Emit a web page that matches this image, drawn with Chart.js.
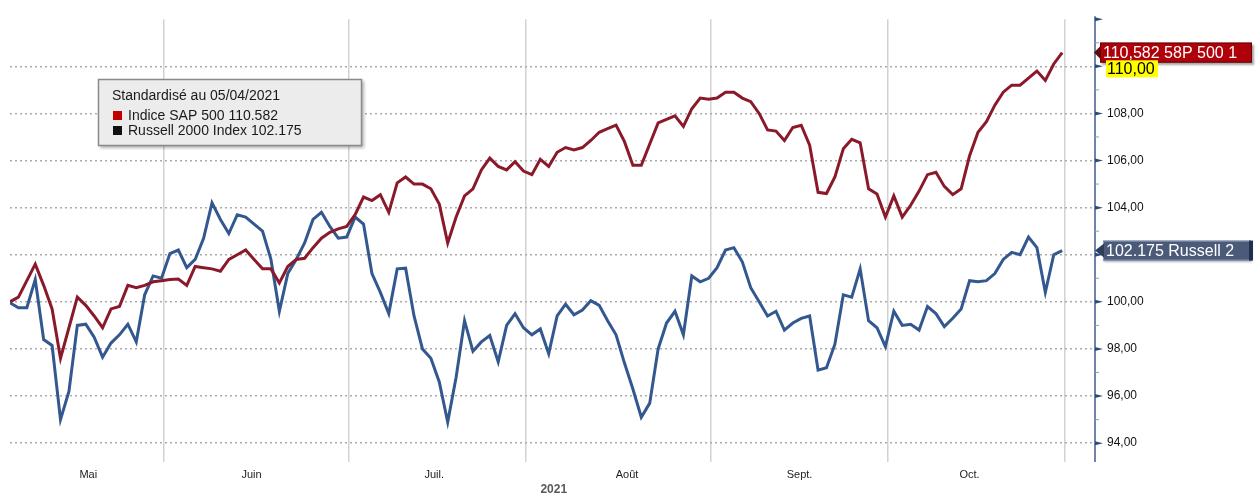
<!DOCTYPE html>
<html>
<head>
<meta charset="utf-8">
<script src="https://cdn.jsdelivr.net/npm/chart.js@4.4.1/dist/chart.umd.min.js"></script>
<style>
  html, body { margin: 0; padding: 0; background: #fff; }
  #wrap { width: 1256px; height: 497px; position: relative; }
</style>
</head>
<body>
<div id="wrap"><canvas id="chart" width="1256" height="497"></canvas></div>
<script>
// ==== DATA (standardisé au 05/04/2021, une valeur par séance) ====
const sp500 = [
  100.0, 100.2, 100.9, 101.6, 100.7, 99.7, 97.6, 98.9, 100.2, 99.85,
  99.4, 98.9, 99.7, 99.8, 100.7, 100.6, 100.7, 100.85, 100.9, 100.95,
  100.97, 100.7, 101.5, 101.45, 101.4, 101.3, 101.8, 102.0, 102.2, 101.8,
  101.4, 101.4, 100.8, 101.5, 101.8, 101.85, 102.3, 102.7, 102.95, 103.1,
  103.2, 103.7, 104.45, 104.3, 104.55, 103.8, 105.05, 105.3, 105.0, 105.0,
  104.8, 104.15, 102.5, 103.6, 104.5, 104.8, 105.6, 106.1, 105.75, 105.6,
  105.95, 105.55, 105.4, 106.05, 105.75, 106.35, 106.55, 106.45, 106.55, 106.85,
  107.2, 107.35, 107.5, 106.8, 105.8, 105.8, 106.7, 107.6, 107.75, 107.9,
  107.45, 108.2, 108.65, 108.6, 108.65, 108.9, 108.9, 108.65, 108.5, 108.0,
  107.3, 107.25, 106.85, 107.4, 107.5, 106.65, 104.65, 104.6, 105.3, 106.5,
  106.9, 106.75, 104.8, 104.58, 103.6, 104.5, 103.6, 104.1, 104.7, 105.4,
  105.5, 104.9, 104.55, 104.8, 106.2, 107.2, 107.65, 108.35, 108.9, 109.2,
  109.2, 109.5, 109.8, 109.4, 110.1, 110.582
];
const russell = [
  99.96, 99.75, 99.75, 100.95, 98.4, 98.15, 95.0, 96.2, 99.0, 99.05,
  98.5, 97.65, 98.25, 98.6, 99.05, 98.3, 100.3, 101.1, 101.0, 102.05,
  102.2, 101.45, 101.8, 102.7, 104.2, 103.5, 102.9, 103.7, 103.6, 103.3,
  103.0, 101.8, 99.6, 101.2, 101.8, 102.5, 103.5, 103.8, 103.2, 102.7,
  102.75, 103.6, 103.3, 101.2, 100.4, 99.5, 101.4, 101.43, 99.4, 98.0,
  97.6, 96.6, 94.9, 96.8, 99.2, 97.9, 98.3, 98.57, 97.45, 99.0,
  99.5, 98.9, 98.6, 98.85, 97.8, 99.4, 99.9, 99.45, 99.65, 100.05,
  99.85, 99.2, 98.6, 97.4, 96.3, 95.1, 95.7, 98.0, 99.1, 99.6,
  98.6, 101.1, 100.85, 101.0, 101.45, 102.2, 102.3, 101.7, 100.6, 100.0,
  99.4, 99.6, 98.8, 99.1, 99.3, 99.4, 97.1, 97.2, 98.2, 100.3,
  100.2, 101.4, 99.2, 98.9, 98.1, 99.6, 99.0, 99.05, 98.8, 99.8,
  99.5, 98.95, 99.3, 99.7, 100.9, 100.85, 100.9, 101.2, 101.8, 102.1,
  102.0, 102.75, 102.3, 100.4, 102.0, 102.175
];

// mois : index de la première séance et position du libellé (en séances)
const monthNames = ["Mai", "Juin", "Juil.", "Août", "Sept.", "Oct."];
const monthStart = [19, 41, 62, 84, 105, 126];
const monthLabelAt = [9.3, 28.7, 50.4, 73.3, 93.8, 114.0];
const yearLabel = "2021";

const legendTitle = "Standardisé au 05/04/2021";
const spName = "Indice SAP 500";
const rutName = "Russell 2000 Index";
const spTag = "110,582 58P 500 1";
const rutTag = "102.175 Russell 2";
const highlightTick = 110;

const FONT = "'Liberation Sans', Arial, sans-serif";
const gridTicks = monthStart.map(v => v - 0.7);

function fmtFr(v) { return v.toFixed(2).replace('.', ','); }

// ==== Plugin : axe droit, étiquettes, légende ====
const decor = {
  id: 'decor',
  afterDraw(chart) {
    const ctx = chart.ctx;
    const ys = chart.scales.y;
    const xs = chart.scales.x;
    const area = chart.chartArea;
    const ax = area.right;

    ctx.save();
    // axe vertical
    ctx.strokeStyle = '#6f84a6';
    ctx.lineWidth = 2;
    ctx.beginPath();
    ctx.moveTo(ax, area.top - 3);
    ctx.lineTo(ax, area.bottom);
    ctx.stroke();
    // graduations
    for (let v = 94; v <= 112; v++) {
      const y = ys.getPixelForValue(v);
      ctx.beginPath();
      if (v % 2 === 0) {
        ctx.fillStyle = '#2c4a7a';
        ctx.moveTo(ax, y - 2);
        ctx.lineTo(ax + 8, y);
        ctx.lineTo(ax, y + 2);
        ctx.fill();
      } else {
        ctx.strokeStyle = '#8fa0bb';
        ctx.lineWidth = 1;
        ctx.moveTo(ax, y);
        ctx.lineTo(ax + 4, y);
        ctx.stroke();
      }
    }

    // étiquette S&P 500
    let y = ys.getPixelForValue(sp500[sp500.length - 1]);
    ctx.shadowColor = 'rgba(0,0,0,0.35)';
    ctx.shadowOffsetX = 2;
    ctx.shadowOffsetY = 2;
    ctx.shadowBlur = 2;
    ctx.fillStyle = '#b0000a';
    ctx.fillRect(1100, y - 10, 152, 20);
    ctx.shadowColor = 'transparent';
    ctx.strokeStyle = '#5c0a0a';
    ctx.lineWidth = 1;
    ctx.strokeRect(1100.5, y - 9.5, 151, 19);
    ctx.fillStyle = '#5c0a0a';
    ctx.beginPath();
    ctx.moveTo(ax - 1, y);
    ctx.lineTo(1101, y - 7);
    ctx.lineTo(1101, y + 7);
    ctx.fill();
    ctx.font = '16px ' + FONT;
    ctx.textBaseline = 'middle';
    ctx.textAlign = 'left';
    ctx.fillStyle = '#ffffff';
    ctx.fillText(spTag, 1103, y + 1);

    // 110,00 surligné
    y = ys.getPixelForValue(highlightTick);
    ctx.fillStyle = '#ffff00';
    ctx.fillRect(1106, y - 6, 52, 17);
    ctx.fillStyle = '#000';
    ctx.fillText(fmtFr(highlightTick), 1107, y + 3);

    // étiquette Russell 2000
    y = ys.getPixelForValue(russell[russell.length - 1]);
    ctx.shadowColor = 'rgba(0,0,0,0.3)';
    ctx.shadowOffsetX = 1;
    ctx.shadowOffsetY = 1;
    ctx.shadowBlur = 2;
    ctx.fillStyle = '#4a5a78';
    ctx.fillRect(1103, y - 10, 148, 20);
    ctx.shadowColor = 'transparent';
    ctx.strokeStyle = '#8d9cb8';
    ctx.strokeRect(1103.5, y - 9.5, 147, 19);
    ctx.fillStyle = '#1f2f4e';
    ctx.fillRect(1249, y - 10, 4, 20);
    ctx.fillStyle = '#2d3d5c';
    ctx.beginPath();
    ctx.moveTo(ax, y);
    ctx.lineTo(1104, y - 7);
    ctx.lineTo(1104, y + 7);
    ctx.fill();
    ctx.fillStyle = '#ffffff';
    ctx.fillText(rutTag, 1106, y + 1);

    // légende
    ctx.shadowColor = 'rgba(0,0,0,0.3)';
    ctx.shadowOffsetX = 2;
    ctx.shadowOffsetY = 2;
    ctx.shadowBlur = 3;
    ctx.fillStyle = '#ececec';
    ctx.fillRect(98, 79, 264, 67);
    ctx.shadowColor = 'transparent';
    ctx.strokeStyle = '#8a8a8a';
    ctx.lineWidth = 1.5;
    ctx.strokeRect(98.5, 79.5, 263, 66);
    ctx.font = '14px ' + FONT;
    ctx.fillStyle = '#1a1a1a';
    ctx.fillText(legendTitle, 112, 96);
    ctx.fillStyle = '#c00000';
    ctx.fillRect(113, 111, 9, 9);
    ctx.fillStyle = '#111';
    ctx.fillRect(113, 126, 9, 9);
    ctx.fillStyle = '#1a1a1a';
    ctx.fillText(spName + ' ' + sp500[sp500.length - 1].toFixed(3), 128, 116);
    ctx.fillText(rutName + ' ' + russell[russell.length - 1].toFixed(3), 128, 131);

    // année
    ctx.font = 'bold 12px ' + FONT;
    ctx.fillStyle = '#5a5a5a';
    ctx.textAlign = 'center';
    ctx.fillText(yearLabel, xs.getPixelForValue(64.6), 490);
    ctx.restore();
  }
};

new Chart(document.getElementById('chart').getContext('2d'), {
  type: 'line',
  data: {
    datasets: [
      {
        label: spName,
        data: sp500.map((v, i) => ({ x: i, y: v })),
        borderColor: '#8a1a2a',
        borderWidth: 3,
        pointRadius: 0,
        tension: 0
      },
      {
        label: rutName,
        data: russell.map((v, i) => ({ x: i, y: v })),
        borderColor: '#33588f',
        borderWidth: 3,
        pointRadius: 0,
        tension: 0
      }
    ]
  },
  options: {
    responsive: false,
    animation: false,
    layout: { padding: { left: 10, top: 15, right: 0, bottom: 0 } },
    plugins: { legend: { display: false }, tooltip: { enabled: false } },
    scales: {
      x: {
        type: 'linear',
        min: 0,
        max: 128.9,
        afterBuildTicks: (axis) => {
          axis.ticks = gridTicks.concat(monthLabelAt).map(v => ({ value: v }));
        },
        afterFit: (axis) => { axis.height = 35; },
        ticks: {
          autoSkip: false,
          maxRotation: 0,
          padding: 6,
          color: '#222',
          font: { family: FONT, size: 11 },
          callback: (value) => {
            const k = monthLabelAt.indexOf(value);
            return k >= 0 ? monthNames[k] : '';
          }
        },
        grid: {
          drawTicks: false,
          lineWidth: 1.5,
          color: (c) => (c.tick && gridTicks.includes(c.tick.value)) ? '#d2d2d2' : 'rgba(0,0,0,0)'
        },
        border: { display: false }
      },
      y: {
        type: 'linear',
        position: 'right',
        min: 93.2,
        max: 112,
        afterBuildTicks: (axis) => {
          const t = [];
          for (let v = 94; v <= 112; v++) t.push({ value: v });
          axis.ticks = t;
        },
        afterFit: (axis) => { axis.width = 161; },
        ticks: {
          padding: 12,
          color: '#111',
          font: { family: FONT, size: 12 },
          callback: (value) => {
            if (value % 2 !== 0 || value === 102 || value === highlightTick || value === 112) return '';
            return fmtFr(value);
          }
        },
        grid: {
          drawTicks: false,
          lineWidth: 1.5,
          color: (c) => (c.tick && c.tick.value % 2 === 0 && c.tick.value < 112) ? '#ababab' : 'rgba(0,0,0,0)'
        },
        border: { display: false, dash: [2, 3] }
      }
    }
  },
  plugins: [decor]
});
</script>
</body>
</html>
